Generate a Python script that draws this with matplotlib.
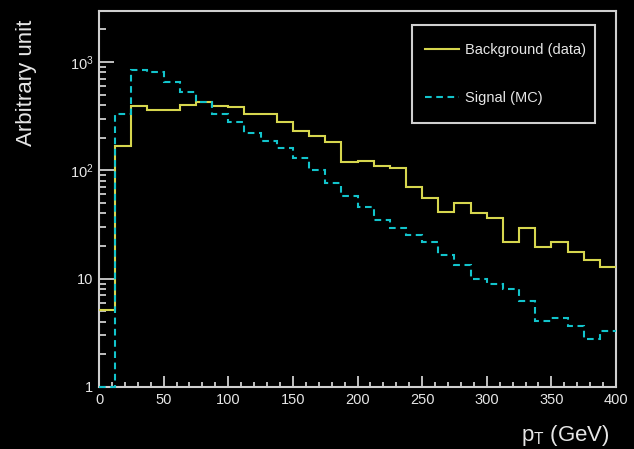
import numpy as np
import matplotlib.pyplot as plt
from matplotlib.ticker import LogLocator, NullFormatter, MultipleLocator
from matplotlib.lines import Line2D
from matplotlib.patches import Rectangle

plt.rcParams['font.family'] = ['Liberation Sans', 'DejaVu Sans']
plt.rcParams['mathtext.default'] = 'regular'

# 12.5 GeV bins from 0 to 400
bin_edges = np.linspace(0, 400, 33)

background = [5.1, 168, 396, 361, 361, 400, 426, 396, 382, 332, 332, 278,
              232, 209, 181, 119, 122, 110, 106, 70.7, 55.2, 41.6, 49.7, 40.2,
              36.1, 21.8, 29.2, 19.6, 21.8, 17.6, 14.8, 12.8]
signal = [1.0, 330, 840, 805, 659, 533, 426, 330, 276, 223, 187, 162,
          131, 101, 76, 57.5, 46.2, 34.8, 29.2, 25.3, 21.7, 16.4, 13.4, 9.9,
          8.93, 8.0, 6.22, 4.07, 4.36, 3.63, 2.76, 3.29]

names = ['Background (data)', 'Signal (MC)']
ytick_vals = [1, 10, 100, 1000]
ytick_text = ['1', '10', '$10^{2}$', '$10^{3}$']

yellow = '#d6d64e'
cyan = '#12c4cc'
grey = '#cfcfcf'
txt = '#e6e6e6'
dash = (0, (3.2, 2.2))

fig = plt.figure(figsize=(6.34, 4.49), dpi=100, facecolor='black')
ax = fig.add_axes([0.1562, 0.1381, 0.8154, 0.8374], facecolor='black')

ax.stairs(background, bin_edges, baseline=None, color=yellow, lw=1.5, zorder=3)
ax.stairs(signal, bin_edges, baseline=None, color=cyan, lw=1.5,
          linestyle=dash, zorder=3, clip_on=False)

ax.set_yscale('log')
ax.set_xlim(0, 400)
ax.set_ylim(1, 2950)

ax.set_yticks(ytick_vals)
ax.set_yticklabels(ytick_text)
ax.yaxis.set_minor_locator(LogLocator(subs=np.arange(2, 10)))
ax.yaxis.set_minor_formatter(NullFormatter())
ax.xaxis.set_major_locator(MultipleLocator(50))
ax.xaxis.set_minor_locator(MultipleLocator(10))

ax.tick_params(which='both', direction='in', color=grey, width=1.3,
               labelcolor=txt, labelsize=10.5, pad=4)
ax.tick_params(axis='x', which='major', length=8)
ax.tick_params(axis='x', which='minor', length=3.8)
ax.tick_params(axis='y', which='major', length=11)
ax.tick_params(axis='y', which='minor', length=5)
for s in ax.spines.values():
    s.set_color(grey)
    s.set_linewidth(1.5)

ax.set_xlabel('$p_{T}$ (GeV)', fontsize=16, color=txt, ha='right', va='center')
ax.xaxis.set_label_coords(0.988, -0.128)
ax.set_ylabel('Arbitrary unit', fontsize=16, color=txt, ha='right', va='center')
ax.yaxis.set_label_coords(-0.141, 0.976)

# legend box drawn like ROOT's TLegend
ax.add_patch(Rectangle((0.605, 0.702), 0.355, 0.261, transform=ax.transAxes,
                       fill=False, edgecolor=grey, lw=1.5, zorder=4))
handles = [Line2D([], [], color=yellow, lw=1.5),
           Line2D([], [], color=cyan, lw=1.5, linestyle=dash)]
leg = ax.legend(handles, names, loc='center left', bbox_to_anchor=(0.617, 0.832),
                frameon=False, fontsize=10.5, labelcolor=txt, borderpad=0,
                handlelength=2.3, handletextpad=0.45, labelspacing=2.3)

fig.savefig('out.png', dpi=100, facecolor='black')
